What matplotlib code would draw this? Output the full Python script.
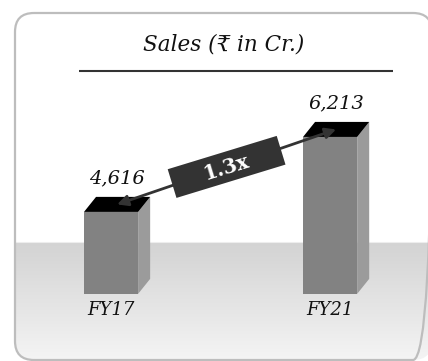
import numpy as np
import matplotlib.pyplot as plt
from matplotlib.patches import Polygon, FancyBboxPatch, Rectangle
from matplotlib.colors import LinearSegmentedColormap
from matplotlib.transforms import IdentityTransform

years = ['FY17', 'FY21']
sales = [4616, 6213]
growth_label = '1.3x'
title = 'Sales (₹ in Cr.)'

W, H = 428, 361
serif = ['DejaVu Serif']

fig = plt.figure(figsize=(W / 100, H / 100), dpi=100)

# background layer, pixel units with y pointing down
bg = fig.add_axes([0, 0, 1, 1])
bg.axis('off')

frame = FancyBboxPatch((15, 13), 417, 347, boxstyle='round,pad=0,rounding_size=19',
                       fc='none', ec='#bdbdbd', lw=1.6, zorder=3)
bg.add_patch(frame)

floor_cmap = LinearSegmentedColormap.from_list('floor', ['#d3d3d3', '#f4f4f4'])
grad = np.linspace(0, 1, 120).reshape(-1, 1)
floor = bg.imshow(grad, cmap=floor_cmap, extent=(15, 432, 360, 242),
                  aspect='auto', zorder=1)
floor.set_clip_path(frame)
bg.plot([16, 432], [242, 242], color='#ededed', lw=0.8, zorder=1.5)

bg.set_xlim(0, W)
bg.set_ylim(H, 0)

bg.text(224, 45, title, ha='center', va='center', fontsize=15.5,
        style='italic', family=serif, color='#111111')
bg.plot([79, 393], [71, 71], color='#333333', lw=1.5, solid_capstyle='butt')

# bar layer
ax = fig.add_axes([0, 0, 1, 1])
ax.patch.set_alpha(0)
ax.axis('off')
ax.set_xlim(-0.507, 1.447)
ax.set_ylim(1440, 9130)

x = np.arange(len(years))
vals = np.array(sales)
base = 2870
width = 0.247
dx, dy = 0.055, 320  # depth of the 3d faces

ax.bar(x, vals - base, bottom=base, width=width, color='#828282', zorder=2)
for xi, v in zip(x, vals):
    x0, x1 = xi - width / 2, xi + width / 2
    side = Polygon([(x1, base), (x1, v), (x1 + dx, v + dy), (x1 + dx, base + dy)],
                   closed=True, fc='#9b9b9b', ec='none', zorder=2)
    top = Polygon([(x0, v), (x1, v), (x1 + dx, v + dy), (x0 + dx, v + dy)],
                  closed=True, fc='#000000', ec='none', zorder=3)
    ax.add_patch(side)
    ax.add_patch(top)
    ax.text(xi + dx / 2, v + dy + 280, f'{v:,}', ha='center', va='baseline',
            fontsize=14, style='italic', family=serif, color='#111111')

for xi, lab in zip(x, years):
    ax.text(xi, base - 150, lab, ha='center', va='top', fontsize=13,
            style='italic', family=serif, color='#111111')

# growth arrow between the bar tops
p0 = (x[0] + dx / 2, vals[0] + dy / 2)
p1 = (x[1] + dx / 2, vals[1] + dy / 2)
ax.annotate('', xy=p1, xytext=p0, zorder=5,
            arrowprops=dict(arrowstyle='<|-|>', color='#333333', lw=2,
                            mutation_scale=16, shrinkA=0, shrinkB=0))

mx, my = ax.transData.transform(((p0[0] + p1[0]) / 2, (p0[1] + p1[1]) / 2))
ang = 17
box = Rectangle((mx - 57, my - 15), 114, 30, angle=ang, rotation_point='center',
                fc='#333333', ec='none', zorder=6, transform=IdentityTransform())
ax.add_patch(box)
ax.text(mx, my, growth_label, transform=IdentityTransform(), rotation=ang,
        rotation_mode='anchor', ha='center', va='center', fontsize=14.5,
        fontweight='bold', family=serif, color='white', zorder=7)

fig.savefig('out.png', dpi=100)
